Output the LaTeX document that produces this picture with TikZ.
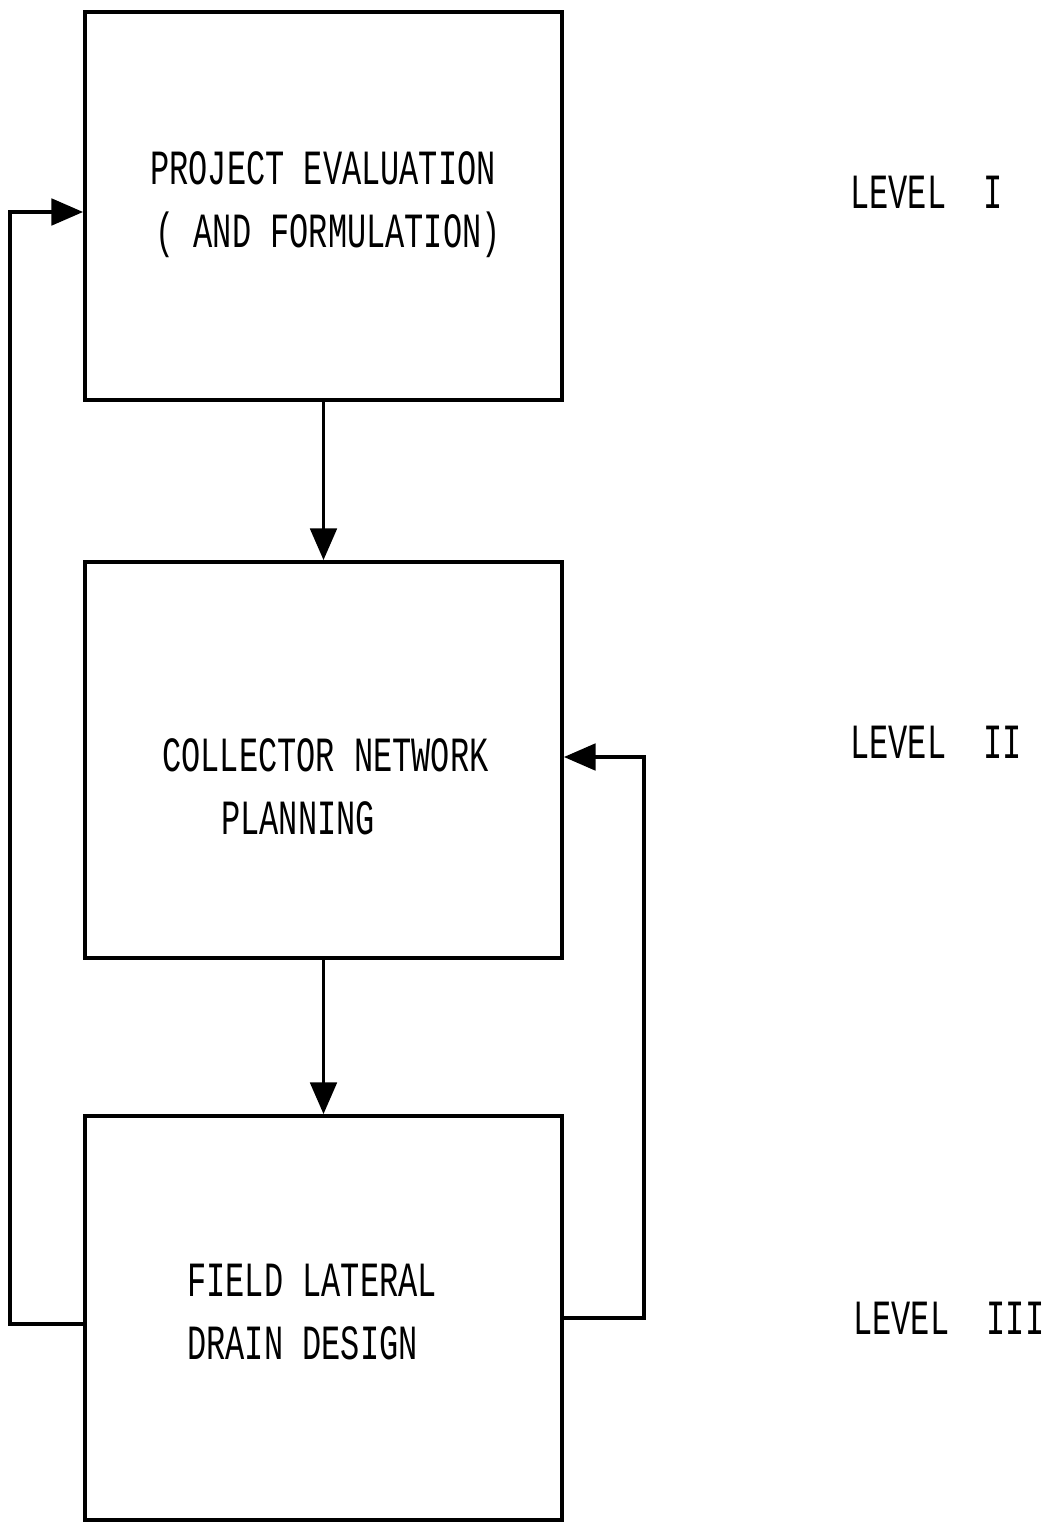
\documentclass[tikz,border=0pt]{standalone}
\usepackage{fontspec}
\setmainfont{Liberation Mono}[FakeStretch=0.65]
\usetikzlibrary{arrows.meta, positioning, calc}

\tikzset{
  stage/.style={draw, line width=2.2pt, minimum width=9.54cm, inner sep=0pt},
  flow/.style={-{Triangle[length=18pt,width=15pt]}, line width=2.2pt},
  boxtext/.style={anchor=west, inner sep=0pt, align=left, font=\fontsize{28}{36}\selectfont},
  leveltext/.style={anchor=west, inner sep=0pt, font=\fontsize{28}{36}\selectfont}
}

\begin{document}
\begin{tikzpicture}[x=0.02cm, y=-0.02cm]
  \useasboundingbox (0,0) rectangle (1050,1527);
  % the three planning stages
  \node[stage, minimum height=7.76cm] (eval) at (323.5,206) {};
  \node[stage, minimum height=7.92cm] (coll) at (323.5,760) {};
  \node[stage, minimum height=8.08cm] (field) at (323.5,1318) {};
  % texts in the boxes
  \node[boxtext] (evaltxt) at (150,205) {PROJECT EVALUATION\\\hspace{0.1cm}( AND FORMULATION)};
  \node[boxtext] (colltxt) at (162,787) {COLLECTOR NETWORK\\\hspace{1.18cm}PLANNING};
  \node[boxtext] (fieldtxt) at (187,1312) {FIELD LATERAL\\DRAIN DESIGN};
  % levels
  \node[leveltext] (lev1) at (850,192) {LEVEL\hspace{0.75cm}I};
  \node[leveltext] (lev2) at (850,742) {LEVEL\hspace{0.75cm}II};
  \node[leveltext] (lev3) at (853,1318) {LEVEL\hspace{0.75cm}III};
  % connectors
  \draw[flow] (eval.south) -- (coll.north);
  \draw[flow] (coll.south) -- (field.north);
  \draw[flow] ($(field.west)+(0,6)$) -- ++(-73,0) |- ($(eval.west)+(0,6)$);
  \draw[flow] (field.east) -- ++(80,0) |- ($(coll.east)+(0,-3)$);
\end{tikzpicture}
\end{document}
